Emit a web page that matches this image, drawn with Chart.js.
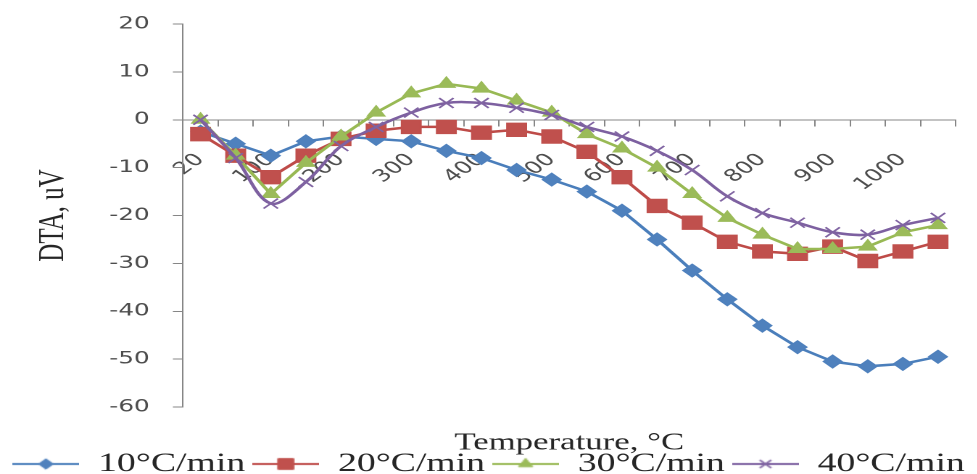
<!DOCTYPE html>
<html>
<head>
<meta charset="utf-8">
<script src="https://cdn.jsdelivr.net/npm/chart.js@4.4.0/dist/chart.umd.min.js"></script>
<style>
  html, body { margin: 0; padding: 0; background: #fff; overflow: hidden; }
  /* the reference picture is stretched sideways, so draw narrow and stretch */
  #wrap { width: 674px; height: 474px; transform: scaleX(1.45); transform-origin: 0 0; }
</style>
</head>
<body>
<div id="wrap"><canvas id="dta" width="674" height="474"></canvas></div>
<script>
const temps = ['20', '50', '100', '150', '200', '250', '300', '350', '400', '450', '500',
               '550', '600', '650', '700', '750', '800', '850', '900', '950', '1000', '1050'];
const rate10 = [-2.5, -5, -7.5, -4.5, -3.5, -4, -4.5, -6.5, -8, -10.5, -12.5,
                -15, -19, -25, -31.5, -37.5, -43, -47.5, -50.5, -51.5, -51, -49.5];
const rate20 = [-3, -7.5, -12, -7.5, -4, -2.3, -1.5, -1.5, -2.7, -2.1, -3.5,
                -6.7, -12, -18, -21.5, -25.5, -27.5, -28, -26.5, -29.5, -27.5, -25.5];
const rate30 = [0, -7.5, -15.5, -9, -3.5, 1.5, 5.5, 7.5, 6.5, 4, 1.5,
                -3, -6, -10, -15.5, -20.5, -24, -27, -27, -26.5, -23.5, -22];
const rate40 = [0, -8, -17.5, -13, -5.5, -1.5, 1.5, 3.5, 3.5, 2.5, 1,
                -1.5, -3.5, -6.5, -10.5, -16, -19.5, -21.5, -23.5, -24, -22, -20.5];
const seriesNames = ['10°C/min', '20°C/min', '30°C/min', '40°C/min'];

const axisGrey = '#868686';
const tickGrey = '#4d4d4d';
const textDark = '#262626';

// little line + marker picture for each legend entry, like the spreadsheet legend
function legendIcon(line, fill, style, radius, bw) {
    const c = document.createElement('canvas');
    c.width = 46;
    c.height = 18;
    const g = c.getContext('2d');
    g.strokeStyle = line;
    g.lineWidth = 2;
    g.beginPath();
    g.moveTo(0, 9);
    g.lineTo(46, 9);
    g.stroke();
    g.fillStyle = fill;
    g.strokeStyle = fill;
    g.lineWidth = bw;
    Chart.helpers.drawPoint(g, { pointStyle: style, radius: radius, borderWidth: bw, rotation: 0 }, 23, 9);
    return c;
}

const styles = [
    { line: '#4a7ebb', fill: '#4f81bd', point: 'rectRot', r: 6.5, bw: 1, tension: 0, order: 4 },
    { line: '#be4b48', fill: '#c0504d', point: 'rect', r: 9.5, bw: 1, tension: 0, order: 3 },
    { line: '#98b954', fill: '#9bbb59', point: 'triangle', r: 7, bw: 1, tension: 0, order: 2 },
    { line: '#7d60a0', fill: '#8064a2', point: 'crossRot', r: 7, bw: 1.5, tension: 0.35, order: 1 }
];
const seriesData = [rate10, rate20, rate30, rate40];
const icons = styles.map(s => legendIcon(s.line, s.fill, s.point, s.r * 0.8, s.bw));

const datasets = seriesData.map((d, i) => ({
    label: seriesNames[i],
    data: d,
    borderColor: styles[i].line,
    backgroundColor: styles[i].fill,
    borderWidth: 2.5,
    tension: styles[i].tension,
    pointStyle: styles[i].point,
    pointRadius: styles[i].r,
    pointBackgroundColor: styles[i].fill,
    pointBorderColor: styles[i].fill,
    pointBorderWidth: styles[i].bw,
    order: styles[i].order
}));

new Chart(document.getElementById('dta'), {
    type: 'line',
    data: { labels: temps, datasets: datasets },
    options: {
        responsive: false,
        devicePixelRatio: 2,
        animation: false,
        layout: { padding: { left: 0, right: 0, top: 24, bottom: -13 } },
        scales: {
            x: {
                type: 'category',
                position: { y: 0 },
                offset: true,
                // keep the rotated labels from pushing the plot area around
                afterFit: s => { s.paddingLeft = 0; s.paddingRight = 15; },
                grid: { display: true, drawOnChartArea: false, drawTicks: true, tickLength: 6, color: axisGrey, offset: true },
                border: { display: true, color: axisGrey, width: 1 },
                ticks: {
                    autoSkip: false,
                    minRotation: 45,
                    maxRotation: 45,
                    padding: 24,
                    color: tickGrey,
                    font: { family: 'DejaVu Sans', size: 17 },
                    callback: function (v, i) { return i % 2 === 0 ? this.getLabelForValue(v) : ''; }
                }
            },
            y: {
                min: -60,
                max: 20,
                afterFit: s => { s.width = 126.2; s.paddingTop = 0; s.paddingBottom = 0; },
                grid: { drawOnChartArea: false, drawTicks: true, tickLength: 7, color: axisGrey },
                border: { display: true, color: axisGrey, width: 1 },
                ticks: {
                    stepSize: 10,
                    padding: 16,
                    color: tickGrey,
                    font: { family: 'DejaVu Sans', size: 17 }
                },
                title: {
                    display: true,
                    text: 'DTA, uV',
                    color: textDark,
                    font: { family: 'Liberation Serif', size: 25 },
                    padding: { top: 22, bottom: 22 }
                }
            }
        },
        plugins: {
            tooltip: { enabled: false },
            title: {
                display: true,
                position: 'bottom',
                fullSize: false,
                weight: 500,
                text: 'Temperature, °C',
                color: textDark,
                font: { family: 'Liberation Serif', size: 24, weight: 'normal', lineHeight: 0.8 },
                padding: { top: 26.4, bottom: -6.6 }
            },
            legend: {
                position: 'bottom',
                labels: {
                    usePointStyle: true,
                    pointStyleWidth: 46,
                    padding: 5,
                    color: textDark,
                    font: { family: 'Liberation Serif', size: 26 },
                    generateLabels: chart => chart.data.datasets.map((ds, i) => ({
                        text: ds.label,
                        pointStyle: icons[i],
                        datasetIndex: i,
                        fontColor: textDark,
                        fillStyle: 'transparent',
                        strokeStyle: 'transparent',
                        lineWidth: 0,
                        hidden: false
                    }))
                }
            }
        }
    }
});
</script>
</body>
</html>
